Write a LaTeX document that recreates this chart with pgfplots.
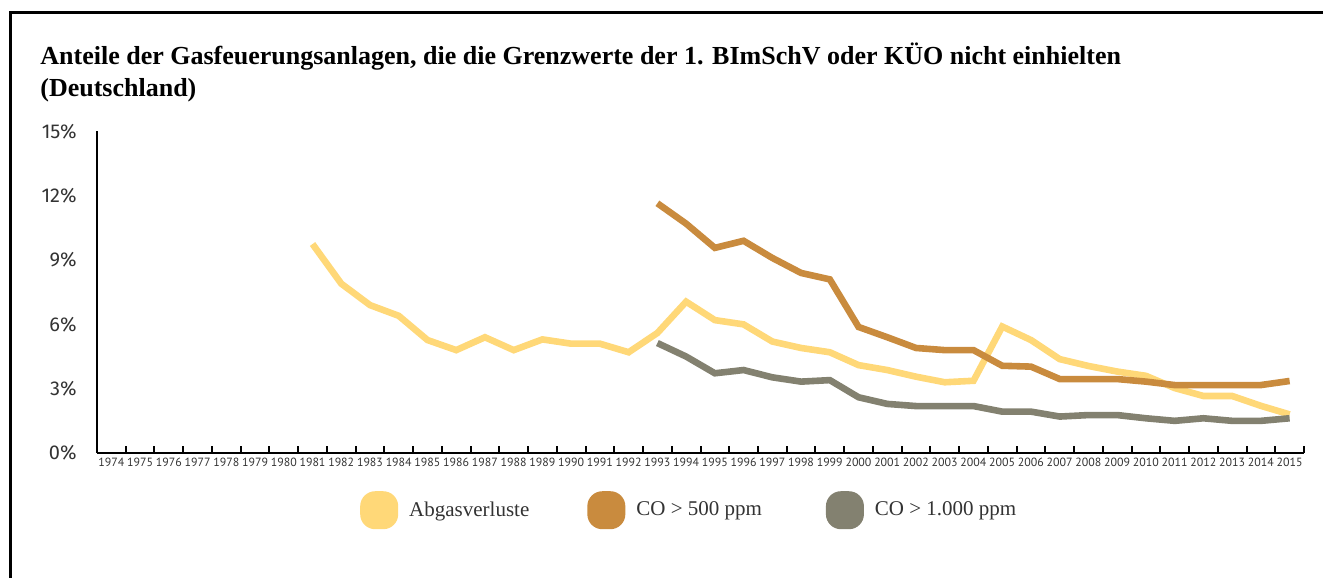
\documentclass[border=0pt]{standalone}
\usepackage{fontspec}
\setmainfont{Liberation Serif}
\newfontfamily\tickfont{Fira Sans}
\newfontfamily\yearfont{PT Sans}
\usepackage{pgfplots}
\pgfplotsset{compat=1.18}
\definecolor{cYel}{HTML}{FFD878}
\definecolor{cBrn}{HTML}{C98B3E}
\definecolor{cGry}{HTML}{838170}
\definecolor{txt}{HTML}{333333}
\begin{document}
\begin{tikzpicture}
\useasboundingbox (0,0) rectangle (661.5pt,289pt);
\draw[line width=1.5pt] (5pt,0) -- (5pt,282.5pt) -- (661.5pt,282.5pt);
\node[anchor=base west, inner sep=0, font=\bfseries\fontsize{13}{15}\selectfont] at (20pt,256.5pt) {Anteile der Gasfeuerungsanlagen, die die Grenzwerte der 1. BImSchV oder KÜO nicht einhielten};
\node[anchor=base west, inner sep=0, font=\bfseries\fontsize{13}{15}\selectfont] at (20pt,240.5pt) {(Deutschland)};
\begin{axis}[
  at={(48.5pt,62.5pt)}, anchor=south west,
  scale only axis, width=603.5pt, height=160.75pt,
  xmin=1973.5, xmax=2015.5, ymin=0, ymax=15,
  axis x line*=bottom, axis y line*=left,
  axis line style={line width=1.2pt, black},
  clip=false,
  xtick={1974,...,2015},
  major x tick style={draw=none},
  minor xtick={1974.5,1975.5,...,2015.5},
  minor tick length=3.5pt,
  xtick align=inside,
  minor x tick style={line width=1pt, black},
  /pgf/number format/.cd, 1000 sep={}, assume math mode=true, /pgfplots/.cd,
  xticklabel style={font=\yearfont\fontsize{5.95}{7}\selectfont, text=txt, inner sep=0pt, yshift=-2.5pt},
  ytick={0,3,6,9,12,15},
  yticklabels={0\%,3\%,6\%,9\%,12\%,15\%},
  major y tick style={draw=none},
  yticklabel style={font=\tickfont\fontsize{10}{12}\selectfont, text=txt, anchor=east, inner sep=0pt, xshift=-10pt},
  legend columns=3,
  legend style={draw=none, at={(0.4915,-0.178)}, anchor=center,
    font=\fontsize{10.5}{13}\selectfont, text=txt,
    /tikz/every odd column/.append style={column sep=3.5pt},
    /tikz/every even column/.append style={column sep=27pt}},
  legend image code/.code={\fill[#1, draw=none, rounded corners=7.5pt] (0pt,-9.5pt) rectangle (19pt,9.5pt);},
  every axis plot/.append style={line width=3.3pt},
]
\addplot[cYel] coordinates {
(1981,9.75) (1982,7.9) (1983,6.9) (1984,6.4) (1985,5.27) (1986,4.8) (1987,5.4)
(1988,4.8) (1989,5.3) (1990,5.1) (1991,5.1) (1992,4.7) (1993,5.6) (1994,7.06)
(1995,6.2) (1996,6.0) (1997,5.2) (1998,4.9) (1999,4.7) (2000,4.1) (2001,3.87)
(2002,3.56) (2003,3.3) (2004,3.37) (2005,5.9) (2006,5.27) (2007,4.38) (2008,4.06)
(2009,3.8) (2010,3.6) (2011,3.03) (2012,2.66) (2013,2.66) (2014,2.2) (2015,1.8)};
\addlegendentry{Abgasverluste}
\addplot[cBrn] coordinates {
(1993,11.65) (1994,10.7) (1995,9.57) (1996,9.9) (1997,9.1) (1998,8.4) (1999,8.1)
(2000,5.88) (2001,5.4) (2002,4.9) (2003,4.8) (2004,4.8) (2005,4.07) (2006,4.03)
(2007,3.45) (2008,3.45) (2009,3.45) (2010,3.33) (2011,3.17) (2012,3.17) (2013,3.17)
(2014,3.17) (2015,3.36)};
\addlegendentry{CO > 500 ppm\kern3pt}
\addplot[cGry] coordinates {
(1993,5.13) (1994,4.5) (1995,3.72) (1996,3.87) (1997,3.53) (1998,3.33) (1999,3.4)
(2000,2.6) (2001,2.29) (2002,2.19) (2003,2.19) (2004,2.19) (2005,1.93) (2006,1.93)
(2007,1.7) (2008,1.77) (2009,1.77) (2010,1.62) (2011,1.5) (2012,1.62) (2013,1.5)
(2014,1.5) (2015,1.62)};
\addlegendentry{CO > 1.000 ppm}
\end{axis}
\end{tikzpicture}
\end{document}
